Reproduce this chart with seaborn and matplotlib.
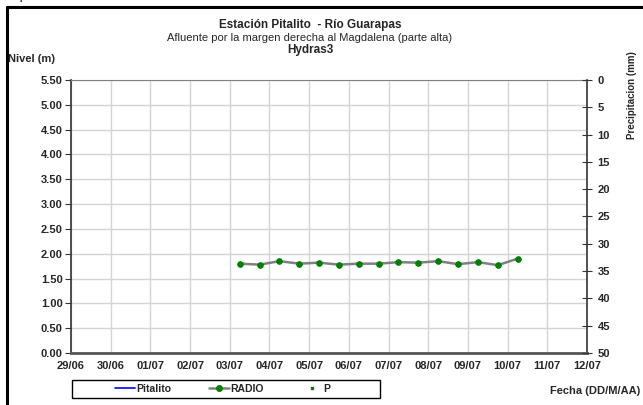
import numpy as np
import pandas as pd
import matplotlib
matplotlib.use("Agg")
import matplotlib.pyplot as plt
import matplotlib.dates as mdates
from matplotlib.lines import Line2D
from matplotlib.patches import Rectangle
import seaborn as sns

sns.set_style("white")
plt.rcParams['font.family'] = ['Liberation Sans', 'DejaVu Sans']

# datos RADIO cada 12 horas
fechas = pd.date_range("2011-07-03 06:00", "2011-07-10 06:00", freq="12h")
nivel_radio = [1.80, 1.78, 1.85, 1.80, 1.82, 1.78, 1.80, 1.80,
               1.83, 1.82, 1.85, 1.79, 1.83, 1.77, 1.90]
nivel_pitalito = []
precipitacion = []

df = pd.DataFrame({"fecha": fechas, "nivel": nivel_radio})

fig = plt.figure(figsize=(6.43, 4.05), dpi=100)
ax = fig.add_axes([0.1104, 0.1284, 0.8026, 0.6741])

sns.lineplot(data=df, x="fecha", y="nivel", ax=ax, color="#808080", lw=1.8,
             marker="o", markersize=4, markerfacecolor="#008000",
             markeredgecolor="#008000", zorder=3)

ax.set_xlim(pd.Timestamp("2011-06-29"), pd.Timestamp("2011-07-12"))
ax.set_ylim(0, 5.5)
ax.set_yticks(np.arange(0, 5.51, 0.5))
ax.yaxis.set_major_formatter(plt.FormatStrFormatter("%.2f"))
ax.xaxis.set_major_locator(mdates.DayLocator())
ax.xaxis.set_major_formatter(mdates.DateFormatter("%d/%m"))
ax.grid(True, color="#d4d4d4", lw=1)
ax.set_xlabel("")
ax.set_ylabel("")
ax.tick_params(axis="both", labelsize=8, length=4, direction="out", color="#333333", pad=2)
for lab in ax.get_xticklabels() + ax.get_yticklabels():
    lab.set_fontweight("bold")

for s in ["left", "right"]:
    ax.spines[s].set_color("#333333")
    ax.spines[s].set_linewidth(1.2)
ax.spines["top"].set_color("#808080")
ax.spines["bottom"].set_color("#555555")
ax.spines["bottom"].set_linewidth(2)

ax2 = ax.twinx()
ax2.set_ylim(50, 0)
ax2.set_yticks(np.arange(0, 51, 5))
ax2.tick_params(axis="y", labelsize=8, length=7, direction="inout", color="#333333", pad=4)
for lab in ax2.get_yticklabels():
    lab.set_fontweight("bold")
for s in ax2.spines.values():
    s.set_visible(False)
ax2.set_ylabel("Precipitacion (mm)", fontsize=7, fontweight="bold")
ax2.yaxis.set_label_coords(1.087, 0.945)
ax2.yaxis.label.set_va("center")

fig.text(0.482, 0.938, "Estación Pitalito  - Río Guarapas", ha="center", va="center",
         fontsize=8.5, fontweight="bold")
fig.text(0.482, 0.906, "Afluente por la margen derecha al Magdalena (parte alta)",
         ha="center", va="center", fontsize=8)
fig.text(0.482, 0.876, "Hydras3", ha="center", va="center", fontsize=8.5, fontweight="bold")
fig.text(0.013, 0.855, "Nivel (m)", ha="left", va="center", fontsize=8, fontweight="bold")
fig.text(0.995, 0.034, "Fecha (DD/M/AA)", ha="right", va="center", fontsize=8, fontweight="bold")
fig.text(0.0, 1.012, "Reporte Niveles de Río", ha="left", va="center", fontsize=11, color="#333333")

# marco
fig.add_artist(plt.Line2D([0.011, 0.011], [0, 0.983], color="black", lw=2.2))
fig.add_artist(plt.Line2D([0.011, 1.0], [0.983, 0.983], color="black", lw=2.2))

# leyenda
fig.add_artist(Rectangle((72 / 643, 7 / 405), 308 / 643, 18 / 405, transform=fig.transFigure,
                         fill=False, edgecolor="black", lw=1))
handles = [Line2D([], [], color="#0000ff", lw=1.2),
           Line2D([], [], color="#808080", lw=1.8, marker="o", markersize=4,
                  markerfacecolor="#008000", markeredgecolor="#008000"),
           Line2D([], [], color="#008000", lw=0, marker="s", markersize=2)]
leg = fig.legend(handles, ["Pitalito", "RADIO", "P"], loc="center left",
                 bbox_to_anchor=(115 / 643, 16 / 405), ncol=3, frameon=False,
                 prop={"size": 7.5, "weight": "bold"}, handlelength=1.9,
                 columnspacing=3.7, borderpad=0, borderaxespad=0, handletextpad=0.1)

fig.savefig("out.png", dpi=100)
